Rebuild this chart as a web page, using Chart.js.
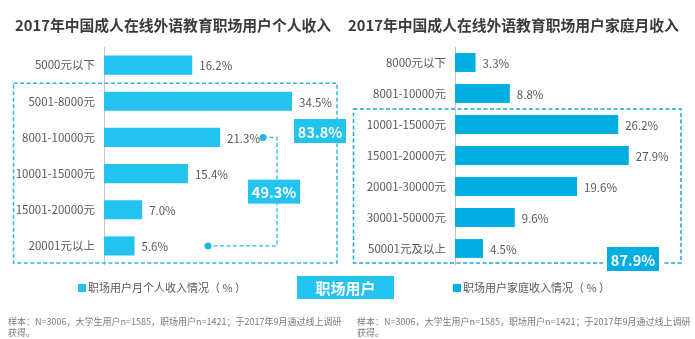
<!DOCTYPE html>
<html><head><meta charset="utf-8">
<script src="https://cdn.jsdelivr.net/npm/chart.js@4"></script>
<style>
html,body{margin:0;padding:0;background:#fff;width:695px;height:339px;overflow:hidden;font-family:"Noto Sans CJK SC","Microsoft YaHei",sans-serif;}
.abs{position:absolute;}
.title{font-size:14.8px;font-weight:bold;color:#3b3b3b;white-space:nowrap;line-height:20px;}
.legend{font-size:11px;color:#595959;white-space:nowrap;line-height:14px;}
.legend i{display:inline-block;width:8px;height:8px;margin-right:2px;vertical-align:0px;}
.foot{font-size:9px;color:#7a7a7a;line-height:11px;border-bottom:1px solid #bdbdbd;padding-bottom:2px;white-space:nowrap;}
.tag{background:#22C3EE;color:#fff;font-weight:bold;font-size:15px;text-align:center;line-height:23px;}
</style></head>
<body>
<canvas id="c1" class="abs" width="350" height="339" style="left:0;top:0;"></canvas>
<canvas id="c2" class="abs" width="350" height="339" style="left:345px;top:0;"></canvas>
<div id="t1" class="abs title" style="left:15px;top:15px;"></div>
<div id="t2" class="abs title" style="left:348px;top:15px;"></div>
<div id="l1" class="abs legend" style="left:78px;top:280px;"></div>
<div id="l2" class="abs legend" style="left:453px;top:280px;"></div>
<div id="tag" class="abs tag" style="left:297px;top:276px;width:97px;height:23px;"></div>
<div id="f1" class="abs foot" style="left:8px;top:316px;width:328px;"></div>
<div id="f2" class="abs foot" style="left:357px;top:316px;width:326px;"></div>
<script>
// ---- data ----
const leftTitle = '2017年中国成人在线外语教育职场用户个人收入';
const rightTitle = '2017年中国成人在线外语教育职场用户家庭月收入';
const leftCats = ['5000元以下','5001-8000元','8001-10000元','10001-15000元','15001-20000元','20001元以上'];
const leftVals = [16.2, 34.5, 21.3, 15.4, 7.0, 5.6];
const rightCats = ['8000元以下','8001-10000元','10001-15000元','15001-20000元','20001-30000元','30001-50000元','50001元及以上'];
const rightVals = [3.3, 8.8, 26.2, 27.9, 19.6, 9.6, 4.5];
const leftLegend = '职场用户月个人收入情况（ % ）';
const rightLegend = '职场用户家庭收入情况（ % ）';
const leftTotalLabel = '83.8%';
const leftSubLabel = '49.3%';
const rightTotalLabel = '87.9%';
const tagText = '职场用户';
const footLines = ['样本：N=3006，大学生用户n=1585，职场用户n=1421；于2017年9月通过线上调研', '获得。'];

const FONT = '"Noto Sans CJK SC","Microsoft YaHei",sans-serif';
const LEFT_COLOR = '#22C3EE';
const RIGHT_COLOR = '#00AEE2';

document.getElementById('t1').textContent = leftTitle;
document.getElementById('t2').textContent = rightTitle;
document.getElementById('l1').innerHTML = '<i style="background:'+LEFT_COLOR+'"></i>' + leftLegend;
document.getElementById('l2').innerHTML = '<i style="background:'+RIGHT_COLOR+'"></i>' + rightLegend;
document.getElementById('tag').textContent = tagText;
for (const id of ['f1','f2']) {
  const el = document.getElementById(id);
  footLines.forEach((t,i)=>{ if(i) el.appendChild(document.createElement('br')); el.appendChild(document.createTextNode(t)); });
}

function valueLabels(color){
  return {
    id:'vlabels',
    afterDatasetsDraw(chart){
      const ctx = chart.ctx;
      const meta = chart.getDatasetMeta(0);
      ctx.save();
      ctx.font = '11.5px ' + FONT;
      ctx.fillStyle = '#595959';
      ctx.textBaseline = 'middle';
      ctx.textAlign = 'left';
      meta.data.forEach((bar,i)=>{
        ctx.fillText(chart.data.datasets[0].data[i].toFixed(1)+'%', bar.x + 7, bar.y + 1);
      });
      ctx.restore();
    }
  };
}

function tagBox(ctx, cx, cy, w, h, text, color){
  ctx.fillStyle = color;
  ctx.fillRect(cx - w/2, cy - h/2, w, h);
  ctx.fillStyle = '#fff';
  ctx.font = 'bold 14.5px ' + FONT;
  ctx.textAlign = 'center';
  ctx.textBaseline = 'middle';
  ctx.fillText(text, cx, cy + 1);
}

const leftAnno = {
  id:'leftAnno',
  afterDraw(chart){
    const ctx = chart.ctx, y = chart.scales.y, x = chart.scales.x;
    const ca = chart.chartArea;
    ctx.save();
    ctx.strokeStyle = '#2BB8E0';
    ctx.lineWidth = 1.5;
    ctx.setLineDash([4,2.5]);
    const top = (y.getPixelForValue(0) + y.getPixelForValue(1)) / 2;
    const bottom = ca.bottom - 1;
    ctx.strokeRect(13.5, top, 337 - 13.5, bottom - top);
    // connector
    const y1 = y.getPixelForValue(2), y2 = y.getPixelForValue(5);
    ctx.font = '11.5px ' + FONT;
    const lblEnd = x.getPixelForValue(leftVals[2]) + 7 + ctx.measureText(leftVals[2].toFixed(1)+'%').width + 3;
    const rx = 277, lx2 = 208;
    ctx.lineWidth = 1.3;
    ctx.beginPath();
    ctx.moveTo(lblEnd, y1); ctx.lineTo(rx, y1); ctx.lineTo(rx, y2); ctx.lineTo(lx2, y2);
    ctx.stroke();
    ctx.setLineDash([]);
    ctx.fillStyle = '#22B5E3';
    ctx.beginPath(); ctx.arc(lblEnd, y1, 3.5, 0, Math.PI*2); ctx.fill();
    ctx.beginPath(); ctx.arc(lx2, y2, 3.5, 0, Math.PI*2); ctx.fill();
    tagBox(ctx, 274, (y1 + y2) / 2, 52, 24, leftSubLabel, LEFT_COLOR);
    tagBox(ctx, 320, 131, 52, 24, leftTotalLabel, LEFT_COLOR);
    ctx.restore();
  }
};

const rightAnno = {
  id:'rightAnno',
  afterDraw(chart){
    const ctx = chart.ctx, y = chart.scales.y;
    const ca = chart.chartArea;
    ctx.save();
    ctx.strokeStyle = '#1AA8D6';
    ctx.lineWidth = 1.5;
    ctx.setLineDash([4,2.5]);
    const top = (y.getPixelForValue(1) + y.getPixelForValue(2)) / 2;
    const bottom = ca.bottom - 1;
    ctx.strokeRect(8.5, top, 336 - 8.5, bottom - top);
    ctx.setLineDash([]);
    ctx.fillStyle = '#fff';
    ctx.fillRect(258, bottom - 4, 60, 8);
    tagBox(ctx, 288, bottom - 4, 52, 24, rightTotalLabel, RIGHT_COLOR);
    ctx.restore();
  }
};

function makeChart(id, cats, vals, color, xmax, axisW, padRight, barPct, anno){
  return new Chart(document.getElementById(id), {
    type:'bar',
    data:{labels:cats, datasets:[{data:vals, backgroundColor:color, barPercentage:barPct, categoryPercentage:1}]},
    options:{
      indexAxis:'y', responsive:false, animation:false,
      layout:{padding:{top:47, bottom:75, left:0, right:padRight}},
      plugins:{legend:{display:false}, tooltip:{enabled:false}},
      scales:{
        x:{display:false, min:0, max:xmax},
        y:{
          grid:{display:false, drawTicks:false},
          border:{display:true, color:'#c4c4c4', width:1},
          ticks:{color:'#595959', font:{size:11.5, family:FONT}, padding:9},
          afterFit(s){ s.width = axisW; }
        }
      }
    },
    plugins:[valueLabels(color), anno]
  });
}

makeChart('c1', leftCats, leftVals, LEFT_COLOR, 40, 104, 28, 0.53, leftAnno);
makeChart('c2', rightCats, rightVals, RIGHT_COLOR, 35, 110, 22, 0.61, rightAnno);
</script>
</body></html>
